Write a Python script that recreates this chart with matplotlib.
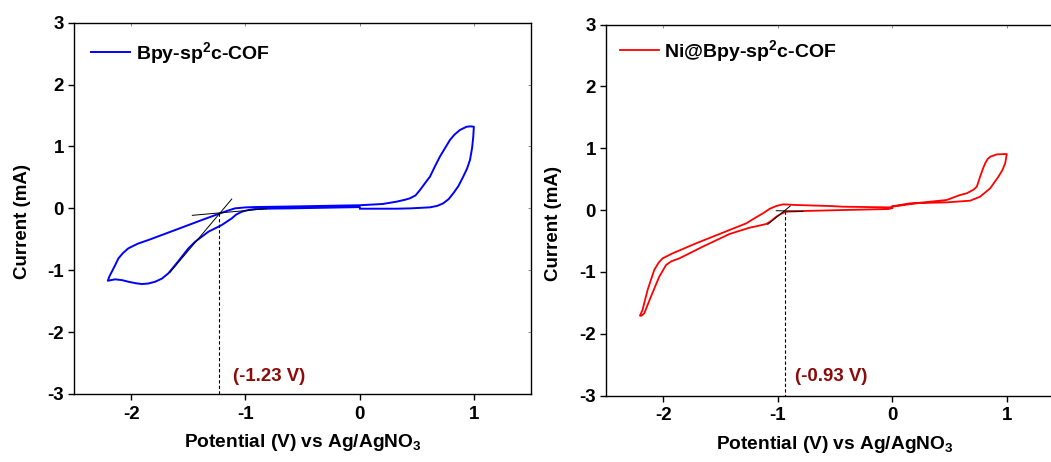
import matplotlib
matplotlib.use('Agg')
import matplotlib.pyplot as plt

plt.rcParams['font.family'] = 'Liberation Sans'
plt.rcParams['font.weight'] = 'bold'
plt.rcParams['axes.unicode_minus'] = False
plt.rcParams['mathtext.fontset'] = 'custom'
plt.rcParams['mathtext.rm'] = 'Liberation Sans:bold'
plt.rcParams['mathtext.it'] = 'Liberation Sans:bold'
plt.rcParams['mathtext.bf'] = 'Liberation Sans:bold'

# --- Bpy-sp2c-COF CV (blue) ---
x_blue = [0.0, -0.3, -0.6, -0.8, -0.915, -0.98, -1.031, -1.08, -1.119, -1.207, -1.324,
          -1.44, -1.5, -1.556, -1.62, -1.674, -1.73, -1.79, -1.85, -1.906, -1.96, -2.024,
          -2.08, -2.14, -2.204,
          -2.19, -2.169, -2.14, -2.111, -2.07, -2.024, -1.94, -1.849, -1.615, -1.381,
          -1.221, -1.15, -1.09, -1.0, -0.915, -0.6, -0.3, 0.0, 0.2, 0.325, 0.4, 0.441,
          0.49, 0.529, 0.57, 0.616, 0.66, 0.703, 0.75, 0.791, 0.83, 0.878, 0.937, 0.97,
          1.0, 0.995, 0.985, 0.966, 0.94, 0.907, 0.865, 0.82, 0.78, 0.732, 0.68, 0.616,
          0.45, 0.325, 0.15, 0.003]
y_blue = [0.02, 0.01, 0.0, -0.005, -0.011, -0.03, -0.055, -0.1, -0.162, -0.27, -0.378,
          -0.54, -0.65, -0.782, -0.93, -1.05, -1.135, -1.186, -1.215, -1.223, -1.21, -1.186,
          -1.16, -1.147, -1.17,
          -1.1, -1.024, -0.92, -0.808, -0.72, -0.646, -0.57, -0.512, -0.351, -0.189,
          -0.081, -0.035, 0.0, 0.015, 0.021, 0.03, 0.04, 0.05, 0.07, 0.108, 0.14, 0.162,
          0.21, 0.297, 0.4, 0.512, 0.68, 0.836, 0.98, 1.105, 1.19, 1.266, 1.319, 1.325,
          1.319, 1.158, 0.98, 0.78, 0.64, 0.512, 0.36, 0.243, 0.15, 0.081, 0.04, 0.016,
          0.0, -0.006, -0.006, -0.006]

# --- Ni@Bpy-sp2c-COF CV (red) ---
x_red = [0.0, -0.036, -0.43, -0.78, -0.926, -0.97, -1.013, -1.06, -1.101, -1.18, -1.247,
         -1.422, -1.656, -1.76, -1.86, -1.93, -1.976, -2.035, -2.108, -2.166, -2.19, -2.204,
         -2.181, -2.16, -2.137, -2.079, -2.04, -2.006, -1.919, -1.714, -1.481, -1.276,
         -1.2, -1.13, -1.07, -1.013, -0.955, -0.838, -0.546, -0.43, -0.021, 0.0, 0.242,
         0.475, 0.592, 0.65, 0.71, 0.738, 0.767, 0.79, 0.811, 0.835, 0.855, 0.913, 1.0,
         0.986, 0.96, 0.927, 0.855, 0.767, 0.68, 0.475, 0.154, 0.0]
y_red = [0.03, 0.016, 0.0, -0.016, -0.027, -0.06, -0.108, -0.18, -0.226, -0.26, -0.286,
         -0.388, -0.593, -0.69, -0.782, -0.83, -0.89, -1.079, -1.402, -1.671, -1.71, -1.709,
         -1.617, -1.46, -1.294, -0.97, -0.85, -0.782, -0.701, -0.539, -0.367, -0.216,
         -0.13, -0.054, 0.02, 0.065, 0.092, 0.081, 0.065, 0.054, 0.043, 0.054, 0.118,
         0.162, 0.243, 0.27, 0.33, 0.377, 0.539, 0.66, 0.755, 0.83, 0.862, 0.9, 0.906,
         0.755, 0.64, 0.539, 0.351, 0.216, 0.151, 0.124, 0.108, 0.06]

# onset tangents (two straight lines each) and the onset point
tan_blue = [([-1.464, -0.813], [-0.113, -0.006]), ([-1.659, -1.119], [-1.034, 0.150])]
tan_red = [([-1.013, -0.78], [-0.011, -0.021]), ([-1.087, -0.891], [-0.232, 0.065])]
onset_blue = (-1.23, -0.081)
onset_red = (-0.935, -0.01)
label_blue = '(-1.23 V)'
label_red = '(-0.93 V)'

x_ticks = [-2, -1, 0, 1]
y_ticks = [-3, -2, -1, 0, 1, 2, 3]

fig = plt.figure(figsize=(10.51, 4.62), dpi=100)
ax1 = fig.add_axes([0.0704, 0.1472, 0.4348, 0.8037])
ax2 = fig.add_axes([0.5766, 0.1439, 0.4358, 0.8030])  # right edge runs off the picture


def style(ax):
    ax.set_xlim(-2.5, 1.5)
    ax.set_ylim(-3, 3)
    ax.set_xticks(x_ticks)
    ax.set_yticks(y_ticks)
    for s in ax.spines.values():
        s.set_linewidth(1.0)
    ax.tick_params(direction='out', length=4.3, width=1.0, labelsize=13.5, pad=3)
    ax.tick_params(axis='x', pad=4)
    ax.set_xlabel(r'Potential (V) vs Ag/AgNO$_3$', fontsize=13.8, fontweight='bold', labelpad=7)
    ax.set_ylabel('Current (mA)', fontsize=13.5, fontweight='bold')
    ax.yaxis.set_label_coords(-0.095, 0.465)

    # faint inward ticks mirrored on top and right
    sec_x = ax.secondary_xaxis('top')
    sec_x.set_xticks(x_ticks)
    sec_x.tick_params(direction='in', length=2.5, width=0.6, colors='#777777', labeltop=False)
    sec_x.spines['top'].set_visible(False)
    sec_y = ax.secondary_yaxis('right')
    sec_y.set_yticks(y_ticks)
    sec_y.tick_params(direction='in', length=2.5, width=0.6, colors='#777777', labelright=False)
    sec_y.spines['right'].set_visible(False)


ax1.plot(x_blue, y_blue, color='#0000FF', lw=1.4, label=r'Bpy-sp$^2$c-COF')
for tx, ty in tan_blue:
    ax1.plot(tx, ty, color='black', lw=0.7)
ax1.plot([onset_blue[0], onset_blue[0]], [onset_blue[1], -3], 'k--', lw=0.8, dashes=(3, 2))
ax1.text(-1.11, -2.72, label_blue, color='#8B0A0A', fontsize=13.4, fontweight='bold', va='center')
style(ax1)
ax1.legend(loc='upper left', frameon=False, fontsize=14, handlelength=2.0, handletextpad=0.3,
           borderaxespad=0.5)

ax2.plot(x_red, y_red, color='#FF0000', lw=1.3, label=r'Ni@Bpy-sp$^2$c-COF')
for tx, ty in tan_red:
    ax2.plot(tx, ty, color='black', lw=0.7)
ax2.plot([onset_red[0], onset_red[0]], [onset_red[1], -3], 'k--', lw=0.8, dashes=(3, 2))
ax2.text(-0.85, -2.70, label_red, color='#8B0A0A', fontsize=13.4, fontweight='bold', va='center')
style(ax2)
ax2.legend(loc='upper left', frameon=False, fontsize=14, handlelength=2.0, handletextpad=0.3,
           borderaxespad=0.3)

fig.savefig('out.png', dpi=100)
